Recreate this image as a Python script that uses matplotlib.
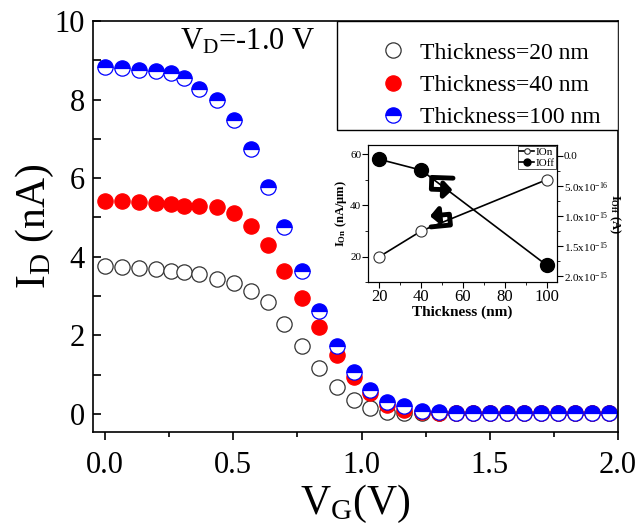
import numpy as np
import matplotlib
matplotlib.use("Agg")
import matplotlib.pyplot as plt
from matplotlib.patches import FancyArrowPatch, Rectangle
from matplotlib.ticker import MultipleLocator

plt.rcParams['font.family'] = 'serif'
plt.rcParams['font.serif'] = ['Liberation Serif', 'DejaVu Serif']
plt.rcParams['mathtext.fontset'] = 'custom'
plt.rcParams['mathtext.rm'] = 'Liberation Serif'
plt.rcParams['mathtext.it'] = 'Liberation Serif:italic'
plt.rcParams['mathtext.bf'] = 'Liberation Serif:bold'

# gate voltage (V)
vg = [0.0, 0.065, 0.133, 0.199, 0.257, 0.309, 0.368, 0.435, 0.504, 0.569,
      0.634, 0.699, 0.767, 0.836, 0.903, 0.969, 1.033, 1.098, 1.166, 1.236,
      1.302, 1.368, 1.435, 1.501, 1.567, 1.634, 1.700, 1.766, 1.833, 1.899, 1.965]

# drain current (nA)
id_20 = [3.76, 3.74, 3.72, 3.69, 3.65, 3.61, 3.55, 3.43, 3.34, 3.12,
         2.84, 2.28, 1.73, 1.16, 0.69, 0.36, 0.16, 0.06, 0.03, 0.02,
         0.02, 0.02, 0.02, 0.02, 0.02, 0.02, 0.02, 0.02, 0.02, 0.02, 0.02]
id_40 = [5.41, 5.41, 5.39, 5.37, 5.35, 5.30, 5.29, 5.26, 5.12, 4.78,
         4.29, 3.65, 2.95, 2.21, 1.50, 0.95, 0.54, 0.23, 0.10, 0.05,
         0.03, 0.02, 0.02, 0.02, 0.02, 0.02, 0.02, 0.02, 0.02, 0.02, 0.02]
id_100 = [8.84, 8.81, 8.76, 8.72, 8.68, 8.55, 8.28, 7.99, 7.47, 6.73,
          5.78, 4.75, 3.64, 2.61, 1.73, 1.06, 0.61, 0.31, 0.19, 0.08,
          0.05, 0.03, 0.02, 0.02, 0.02, 0.02, 0.02, 0.02, 0.02, 0.02, 0.02]

# inset data
thickness = [20, 40, 100]
i_on = [20, 30, 50]            # nA/um
i_off = [0.6e-16, 2.4e-16, 1.82e-15]  # A

fig = plt.figure(figsize=(6.38, 5.28), dpi=100)
ax = fig.add_axes([0.1458, 0.1818, 0.8229, 0.7784])

ms = 11
ax.plot(vg, id_20, 'o', ls='none', ms=ms, mfc='white', mec='#333333', mew=0.9,
        label='Thickness=20 nm')
ax.plot(vg, id_40, 'o', ls='none', ms=ms, mfc='#ff0000', mec='#ff0000', mew=0.9,
        label='Thickness=40 nm')
ax.plot(vg, id_100, 'o', ls='none', ms=ms, fillstyle='top', mfc='#0000ff',
        markerfacecoloralt='white', mec='#0000ff', mew=0.9,
        label='Thickness=100 nm')

ax.set_xlim(-0.047, 2.0)
ax.set_ylim(-0.46, 10)
ax.xaxis.set_major_locator(MultipleLocator(0.5))
ax.xaxis.set_minor_locator(MultipleLocator(0.25))
ax.yaxis.set_major_locator(MultipleLocator(2))
ax.yaxis.set_minor_locator(MultipleLocator(1))
ax.set_xticks([0.0, 0.5, 1.0, 1.5, 2.0])
ax.set_xticklabels(['0.0', '0.5', '1.0', '1.5', '2.0'])
ax.tick_params(axis='x', which='major', direction='out', length=6, width=1.2,
               labelsize=22, pad=8)
ax.tick_params(axis='x', which='minor', direction='out', length=3.5, width=1.2)
ax.tick_params(axis='y', which='both', direction='in', length=5.5, width=1.2,
               labelsize=22, pad=6)
for sp in ax.spines.values():
    sp.set_linewidth(1.2)

ax.set_xlabel(r'V$_\mathrm{G}$(V)', fontsize=30, labelpad=2)
ax.set_ylabel(r'I$_\mathrm{D}$ (nA)', fontsize=30, labelpad=-1)

ax.text(0.165, 0.985, r'V$_\mathrm{D}$=-1.0 V', transform=ax.transAxes,
        fontsize=22, va='top', ha='left')

# legend box drawn separately so the entries can sit where they do in the figure
ax.add_patch(Rectangle((0.4648, 0.7348), 0.5352, 0.2652, transform=ax.transAxes,
                       facecolor='white', edgecolor='black', lw=1.0, zorder=4))
leg = ax.legend(loc='center left', bbox_to_anchor=(0.529, 0.844), fontsize=17,
                frameon=False, borderpad=0, borderaxespad=0, handletextpad=0.2,
                labelspacing=0.45, handlelength=1.89)
leg.set_zorder(5)

# inset
ins = fig.add_axes([0.5773, 0.4653, 0.2953, 0.2595])
l1, = ins.plot(thickness, i_on, '-o', color='black', lw=1.2, ms=8,
               mfc='white', mec='#333333', mew=0.8, label='IOn')
ins.set_xlim(14.7, 104.8)
ins.set_ylim(10, 63.4)
ins.set_xticks([20, 40, 60, 80, 100])
ins.xaxis.set_minor_locator(MultipleLocator(10))
ins.set_yticks([20, 40, 60])
ins.yaxis.set_minor_locator(MultipleLocator(10))
ins.tick_params(axis='x', which='major', direction='out', length=4, labelsize=12, pad=1)
ins.tick_params(axis='x', which='minor', direction='out', length=2)
ins.tick_params(axis='y', which='major', direction='out', length=4, labelsize=8, pad=1)
ins.tick_params(axis='y', which='minor', direction='out', length=2)
ins.set_xlabel('Thickness (nm)', fontsize=11, fontweight='bold', labelpad=0)
ins.set_ylabel(r'$\mathbf{I_{On}}$ $\mathbf{(nA/\mu m)}$', fontsize=9, labelpad=1)

ins2 = ins.twinx()
l2, = ins2.plot(thickness, i_off, '-o', color='black', lw=1.2, ms=10,
                mfc='black', mec='black', label='IOff')
ins2.set_ylim(2.105e-15, -1.73e-16)
ins2.set_yticks([0.0, 5e-16, 1e-15, 1.5e-15, 2e-15])
ins2.set_yticklabels(['0.0', r'5.0x10$^{-16}$', r'1.0x10$^{-15}$',
                      r'1.5x10$^{-15}$', r'2.0x10$^{-15}$'])
ins2.yaxis.set_minor_locator(MultipleLocator(2.5e-16))
ins2.tick_params(axis='y', which='major', direction='out', length=4, labelsize=8, pad=1)
ins2.tick_params(axis='y', which='minor', direction='out', length=2)
ins2.set_ylabel(r'$\mathbf{I_{Off}}$ $\mathbf{(A)}$', fontsize=9, rotation=270,
                labelpad=10)

il = ins.legend([l1, l2], ['IOn', 'IOff'], loc='upper right', fontsize=8,
                frameon=True, fancybox=False, edgecolor='black',
                handlelength=1.4, handletextpad=0.1, borderpad=0.1,
                labelspacing=0.1, borderaxespad=0.1, markerscale=0.5)
il.get_frame().set_linewidth(0.6)

# curved arrows pointing to the respective axes
arr1 = FancyArrowPatch((55.2, 50.6), (55.0, 46.0),
                       connectionstyle='bar,fraction=1.8',
                       arrowstyle='-|>,head_width=0.4,head_length=0.4',
                       color='black', lw=3.5, mutation_scale=12,
                       shrinkA=0, shrinkB=0)
ins.add_patch(arr1)
arr2 = FancyArrowPatch((44.7, 31.6), (44.2, 35.8),
                       connectionstyle='bar,fraction=1.8',
                       arrowstyle='-|>,head_width=0.4,head_length=0.4',
                       color='black', lw=3.5, mutation_scale=12,
                       shrinkA=0, shrinkB=0)
ins.add_patch(arr2)

fig.savefig('out.png', dpi=100)
